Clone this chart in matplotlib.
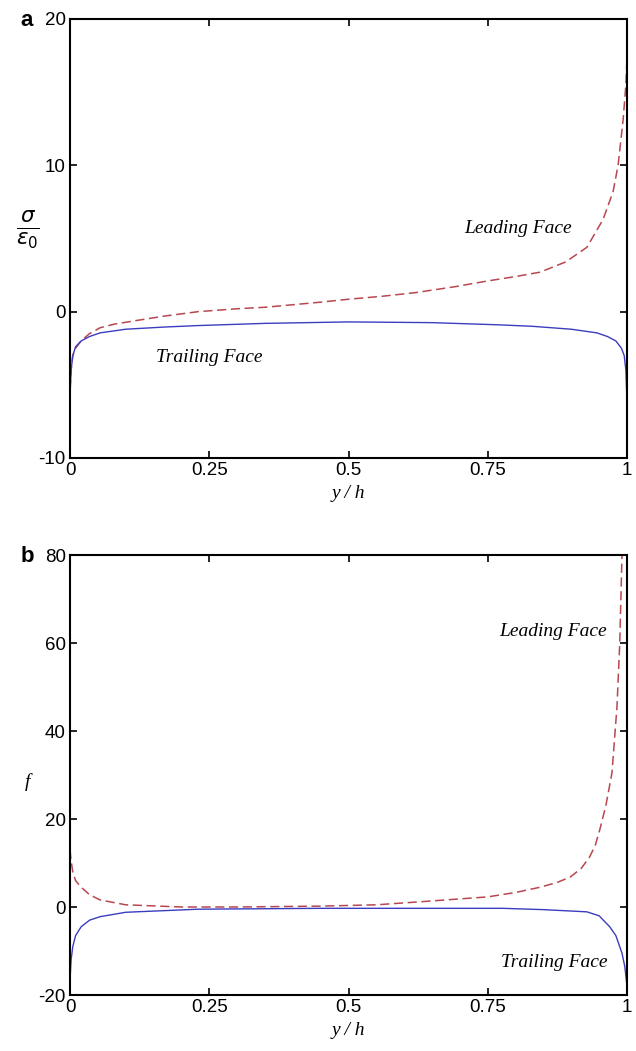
import numpy as np
import matplotlib.pyplot as plt

# panel a: sigma / eps0 along y/h
xa_lead = [0.0, 0.002, 0.005, 0.01, 0.02, 0.035, 0.054, 0.08, 0.12, 0.17, 0.23, 0.3, 0.35, 0.45,
           0.5, 0.56, 0.62, 0.69, 0.75, 0.8, 0.844, 0.89, 0.928, 0.957, 0.975, 0.984, 0.993, 0.998, 1.0]
ya_lead = [-5.3, -4.0, -3.0, -2.5, -2.0, -1.5, -1.1, -0.85, -0.6, -0.3, 0.0, 0.2, 0.3, 0.65,
           0.85, 1.05, 1.3, 1.7, 2.1, 2.4, 2.7, 3.4, 4.4, 6.3, 8.2, 10.0, 13.1, 15.5, 17.4]
xa_trail = [0.0, 0.002, 0.005, 0.01, 0.02, 0.035, 0.054, 0.1, 0.17, 0.23, 0.35, 0.5, 0.65, 0.77,
            0.83, 0.9, 0.946, 0.965, 0.98, 0.99, 0.995, 0.998, 1.0]
ya_trail = [-5.8, -4.0, -3.0, -2.4, -2.0, -1.7, -1.45, -1.2, -1.05, -0.95, -0.8, -0.7, -0.75, -0.9,
            -1.0, -1.2, -1.45, -1.7, -2.0, -2.5, -3.0, -4.0, -6.2]

# panel b: f along y/h
xb_lead = [0.0, 0.002, 0.005, 0.01, 0.02, 0.035, 0.054, 0.1, 0.2, 0.3, 0.45, 0.55, 0.63, 0.75,
           0.8, 0.844, 0.875, 0.898, 0.918, 0.933, 0.943, 0.951, 0.962, 0.973, 0.982, 0.987, 0.991]
yb_lead = [13.0, 10.5, 8.0, 6.0, 4.5, 2.8, 1.6, 0.5, 0.0, 0.0, 0.2, 0.5, 1.2, 2.3,
           3.3, 4.5, 5.6, 6.8, 8.8, 11.4, 14.0, 17.5, 23.0, 30.5, 45.5, 60.0, 80.0]
xb_trail = [0.0, 0.002, 0.005, 0.01, 0.02, 0.035, 0.054, 0.1, 0.23, 0.45, 0.6, 0.777, 0.85,
            0.928, 0.95, 0.969, 0.98, 0.991, 0.996, 1.0]
yb_trail = [-16.6, -12.0, -9.0, -6.5, -4.5, -3.0, -2.2, -1.2, -0.5, -0.3, -0.3, -0.3, -0.6,
            -1.1, -2.0, -4.5, -6.5, -10.5, -13.5, -18.0]

red = '#b8474f'
blue = '#3c3cc0'
plt.rcParams['font.family'] = ['Liberation Sans', 'DejaVu Sans']
plt.rcParams['axes.unicode_minus'] = False

fig = plt.figure(figsize=(6.36, 10.51), dpi=100)
W, H = 636, 1051
axa = fig.add_axes([70 / W, 1 - 458 / H, 557 / W, 439 / H])
axb = fig.add_axes([70 / W, 1 - 995 / H, 557 / W, 440 / H])

axa.plot(xa_lead, ya_lead, color=red, lw=1.1, ls=(0, (6, 3)))
axa.plot(xa_trail, ya_trail, color=blue, lw=1.0)
axb.plot(xb_lead, yb_lead, color=red, lw=1.1, ls=(0, (6, 3)))
axb.plot(xb_trail, yb_trail, color=blue, lw=1.0)

axa.set_ylim(-10, 20)
axa.set_yticks([-10, 0, 10, 20])
axb.set_ylim(-20, 80)
axb.set_yticks([-20, 0, 20, 40, 60, 80])

serif_it = dict(family='Liberation Serif', style='italic', fontsize=14)
for ax in (axa, axb):
    ax.set_xlim(0, 1)
    ax.set_xticks([0, 0.25, 0.5, 0.75, 1])
    ax.set_xticklabels(['0', '0.25', '0.5', '0.75', '1'])
    ax.tick_params(direction='in', top=True, right=True, length=5, width=1.2,
                   labelsize=13.5, pad=3)
    for s in ax.spines.values():
        s.set_linewidth(1.5)
    ax.set_xlabel('y / h', fontdict=serif_it, labelpad=4)

axa.text(0.805, 5.7, 'Leading Face', ha='center', va='center', **serif_it)
axa.text(0.25, -3.1, 'Trailing Face', ha='center', va='center', **serif_it)
axb.text(0.867, 62.5, 'Leading Face', ha='center', va='center', **serif_it)
axb.text(0.87, -12.7, 'Trailing Face', ha='center', va='center', **serif_it)

fig.text(28 / W, 1 - 230 / H, r'$\frac{\sigma}{\epsilon_0}$', fontsize=22,
         ha='center', va='center')
fig.text(27 / W, 1 - 782 / H, 'f', ha='center', va='center', **serif_it)
fig.text(27 / W, 1 - 20 / H, 'a', fontsize=16, fontweight='bold', ha='center', va='center')
fig.text(27 / W, 1 - 557 / H, 'b', fontsize=16, fontweight='bold', ha='center', va='center')

fig.savefig('out.png', dpi=100)
